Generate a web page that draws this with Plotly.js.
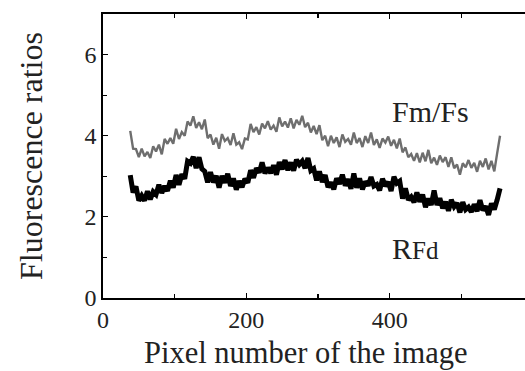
<!DOCTYPE html>
<html>
<head>
<meta charset="utf-8">
<script src="https://cdn.plot.ly/plotly-3.0.1.min.js"></script>
<style>
html,body{margin:0;padding:0;overflow:hidden;background:#fff;}
#chart{width:545px;height:371px;}
</style>
</head>
<body>
<div id="chart"></div>
<script>
const pixelNumber = [38,42,46,50,54,58,62,66,70,74,78,82,86,90,94,98,102,106,110,114,118,122,126,130,134,138,142,146,150,154,158,162,166,170,174,178,182,186,190,194,198,202,206,210,214,218,222,226,230,234,238,242,246,250,254,258,262,266,270,274,278,282,286,290,294,298,302,306,310,314,318,322,326,330,334,338,342,346,350,354,358,362,366,370,374,378,382,386,390,394,398,402,406,410,414,418,422,426,430,434,438,442,446,450,454,458,462,466,470,474,478,482,486,490,494,498,502,506,510,514,518,522,526,530,534,538,542,546,550,554];

const fmFs = [4.12,3.68,3.67,3.47,3.68,3.49,3.60,3.45,3.74,3.61,3.78,3.54,3.92,3.80,3.94,3.80,4.17,3.92,4.09,4.00,4.35,4.25,4.48,4.19,4.33,4.16,4.40,3.94,4.03,3.78,3.95,3.68,4.04,3.87,3.94,3.77,4.06,3.78,3.84,3.67,3.93,3.91,4.29,4.09,4.21,4.03,4.30,4.18,4.36,4.15,4.25,4.10,4.45,4.23,4.35,4.20,4.43,4.18,4.39,4.27,4.49,4.21,4.32,4.08,4.24,4.04,4.26,3.89,4.00,3.74,4.00,3.82,3.96,3.72,4.03,3.85,3.92,3.78,4.08,3.82,3.94,3.72,3.99,3.82,4.08,3.77,3.91,3.70,3.93,3.83,3.98,3.75,3.90,3.69,3.93,3.59,3.71,3.47,3.55,3.38,3.57,3.34,3.58,3.37,3.65,3.32,3.46,3.28,3.51,3.35,3.47,3.23,3.47,3.20,3.29,3.04,3.32,3.22,3.40,3.21,3.33,3.11,3.38,3.23,3.44,3.17,3.38,3.12,3.57,4.00];

const rFd = [3.03,2.60,2.75,2.40,2.52,2.40,2.63,2.43,2.62,2.55,2.79,2.59,2.76,2.64,2.89,2.72,3.03,2.79,3.05,2.94,3.37,3.32,3.48,3.20,3.47,3.18,3.12,2.85,3.10,2.85,3.01,2.72,3.01,2.84,3.06,2.76,2.95,2.67,2.88,2.73,2.94,2.84,3.15,2.96,3.20,3.09,3.34,3.07,3.21,3.08,3.27,3.04,3.35,3.17,3.40,3.15,3.34,3.14,3.41,3.29,3.37,3.20,3.45,3.14,3.19,2.90,3.12,2.86,3.03,2.73,2.85,2.68,2.95,2.81,3.04,2.77,2.93,2.69,3.07,2.72,2.95,2.68,2.87,2.77,2.98,2.76,2.80,2.65,2.94,2.76,2.86,2.64,2.99,2.83,2.88,2.45,2.70,2.42,2.49,2.36,2.60,2.37,2.55,2.24,2.45,2.29,2.65,2.29,2.46,2.21,2.37,2.15,2.42,2.25,2.34,2.11,2.36,2.18,2.24,2.12,2.31,2.14,2.41,2.16,2.26,2.05,2.33,2.18,2.42,2.70];

const seriesLabels = ['Fm/Fs', 'R<span style="font-size:25px">Fd</span>'];
const xTitle = 'Pixel number of the image';
const yTitle = 'Fluorescence ratios';
const xTickVals = [0, 200, 400];
const yTickVals = [0, 2, 4, 6];

const serif = "'Liberation Serif', 'Times New Roman', serif";

const traces = [
  {x: pixelNumber, y: fmFs, mode: 'lines', line: {color: '#6e6e6e', width: 2.4}, hoverinfo: 'skip'},
  {x: pixelNumber, y: rFd, mode: 'lines', line: {color: '#000000', width: 5}, hoverinfo: 'skip'}
];

const axisCommon = {
  showline: true, mirror: 'ticks', linecolor: '#000', linewidth: 1.6,
  ticks: 'inside', ticklen: 5, tickwidth: 1.2, tickcolor: '#000',
  showgrid: false, zeroline: false,
  tickfont: {family: serif, size: 24, color: '#222'}
};

const layout = {
  width: 545, height: 371,
  margin: {l: 103, r: 12, t: 14, b: 73},
  paper_bgcolor: '#fff', plot_bgcolor: '#fff',
  showlegend: false,
  xaxis: Object.assign({}, axisCommon, {
    range: [0, 600], tickmode: 'array', tickvals: xTickVals,
    minor: {tickmode: 'array', tickvals: [100, 300, 500], ticks: 'inside', ticklen: 4, tickcolor: '#000'}
  }),
  yaxis: Object.assign({}, axisCommon, {
    range: [0, 7], tickmode: 'array', tickvals: yTickVals,
    minor: {tickmode: 'array', tickvals: [1, 3, 5], ticks: 'inside', ticklen: 4, tickcolor: '#000'},
    title: {text: yTitle, font: {family: serif, size: 32, color: '#222'}, standoff: 32}
  }),
  annotations: [
    {x: 400, y: 4.59, xref: 'x', yref: 'y', text: seriesLabels[0], showarrow: false, xanchor: 'left', yanchor: 'middle', font: {family: serif, size: 30, color: '#222'}},
    {x: 400, y: 1.23, xref: 'x', yref: 'y', text: seriesLabels[1], showarrow: false, xanchor: 'left', yanchor: 'middle', font: {family: serif, size: 30, color: '#222'}},
    {x: 0.472, y: -0.125, xref: 'paper', yref: 'paper', text: xTitle, showarrow: false, xanchor: 'center', yanchor: 'top', font: {family: serif, size: 30.5, color: '#222'}}
  ]
};

Plotly.newPlot('chart', traces, layout, {displayModeBar: false, staticPlot: true});
</script>
</body>
</html>
